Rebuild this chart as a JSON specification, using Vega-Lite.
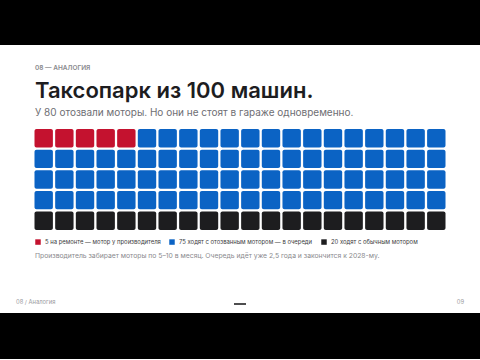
{
  "$schema": "https://vega.github.io/schema/vega-lite/v6.json",
  "background": "white",
  "padding": 0,
  "columns": 1,
  "spacing": 8,
  "bounds": "full",
  "resolve": {"legend": {"color": "independent"}},
  "config": {"view": {"stroke": null}, "font": "Inter", "title": {"font": "Inter", "subtitleFont": "Inter"}},
  "concat": [
    {
      "width": 480,
      "height": 45,
      "view": {"fill": "#000000"},
      "data": {"values": [{"t": ""}]},
      "mark": {"type": "text"},
      "encoding": {"text": {"field": "t"}},
      "title": {"text": "08 — АНАЛОГИЯ", "orient": "bottom", "anchor": "start", "frame": "group", "dx": 35, "offset": 20, "fontSize": 6.5, "fontWeight": 600, "color": "#8a8a8e"}
    },
    {
      "width": 480,
      "height": 101,
      "title": {"text": "Таксопарк из 100 машин.", "subtitle": "У 80 отозвали моторы. Но они не стоят в гараже одновременно.", "anchor": "start", "frame": "group", "dx": 35, "fontSize": 22, "fontWeight": 600, "color": "#1d1d1f", "subtitleFontSize": 10, "subtitleColor": "#6e6e73", "subtitlePadding": 5, "offset": 10},
      "data": {"values": [
        {"c":1,"r":1,"s":"repair"},{"c":2,"r":1,"s":"repair"},{"c":3,"r":1,"s":"repair"},{"c":4,"r":1,"s":"repair"},{"c":5,"r":1,"s":"repair"},
        {"c":6,"r":1,"s":"queue"},{"c":7,"r":1,"s":"queue"},{"c":8,"r":1,"s":"queue"},{"c":9,"r":1,"s":"queue"},{"c":10,"r":1,"s":"queue"},
        {"c":11,"r":1,"s":"queue"},{"c":12,"r":1,"s":"queue"},{"c":13,"r":1,"s":"queue"},{"c":14,"r":1,"s":"queue"},{"c":15,"r":1,"s":"queue"},
        {"c":16,"r":1,"s":"queue"},{"c":17,"r":1,"s":"queue"},{"c":18,"r":1,"s":"queue"},{"c":19,"r":1,"s":"queue"},{"c":20,"r":1,"s":"queue"},
        {"c":1,"r":2,"s":"queue"},{"c":2,"r":2,"s":"queue"},{"c":3,"r":2,"s":"queue"},{"c":4,"r":2,"s":"queue"},{"c":5,"r":2,"s":"queue"},
        {"c":6,"r":2,"s":"queue"},{"c":7,"r":2,"s":"queue"},{"c":8,"r":2,"s":"queue"},{"c":9,"r":2,"s":"queue"},{"c":10,"r":2,"s":"queue"},
        {"c":11,"r":2,"s":"queue"},{"c":12,"r":2,"s":"queue"},{"c":13,"r":2,"s":"queue"},{"c":14,"r":2,"s":"queue"},{"c":15,"r":2,"s":"queue"},
        {"c":16,"r":2,"s":"queue"},{"c":17,"r":2,"s":"queue"},{"c":18,"r":2,"s":"queue"},{"c":19,"r":2,"s":"queue"},{"c":20,"r":2,"s":"queue"},
        {"c":1,"r":3,"s":"queue"},{"c":2,"r":3,"s":"queue"},{"c":3,"r":3,"s":"queue"},{"c":4,"r":3,"s":"queue"},{"c":5,"r":3,"s":"queue"},
        {"c":6,"r":3,"s":"queue"},{"c":7,"r":3,"s":"queue"},{"c":8,"r":3,"s":"queue"},{"c":9,"r":3,"s":"queue"},{"c":10,"r":3,"s":"queue"},
        {"c":11,"r":3,"s":"queue"},{"c":12,"r":3,"s":"queue"},{"c":13,"r":3,"s":"queue"},{"c":14,"r":3,"s":"queue"},{"c":15,"r":3,"s":"queue"},
        {"c":16,"r":3,"s":"queue"},{"c":17,"r":3,"s":"queue"},{"c":18,"r":3,"s":"queue"},{"c":19,"r":3,"s":"queue"},{"c":20,"r":3,"s":"queue"},
        {"c":1,"r":4,"s":"queue"},{"c":2,"r":4,"s":"queue"},{"c":3,"r":4,"s":"queue"},{"c":4,"r":4,"s":"queue"},{"c":5,"r":4,"s":"queue"},
        {"c":6,"r":4,"s":"queue"},{"c":7,"r":4,"s":"queue"},{"c":8,"r":4,"s":"queue"},{"c":9,"r":4,"s":"queue"},{"c":10,"r":4,"s":"queue"},
        {"c":11,"r":4,"s":"queue"},{"c":12,"r":4,"s":"queue"},{"c":13,"r":4,"s":"queue"},{"c":14,"r":4,"s":"queue"},{"c":15,"r":4,"s":"queue"},
        {"c":16,"r":4,"s":"queue"},{"c":17,"r":4,"s":"queue"},{"c":18,"r":4,"s":"queue"},{"c":19,"r":4,"s":"queue"},{"c":20,"r":4,"s":"queue"},
        {"c":1,"r":5,"s":"normal"},{"c":2,"r":5,"s":"normal"},{"c":3,"r":5,"s":"normal"},{"c":4,"r":5,"s":"normal"},{"c":5,"r":5,"s":"normal"},
        {"c":6,"r":5,"s":"normal"},{"c":7,"r":5,"s":"normal"},{"c":8,"r":5,"s":"normal"},{"c":9,"r":5,"s":"normal"},{"c":10,"r":5,"s":"normal"},
        {"c":11,"r":5,"s":"normal"},{"c":12,"r":5,"s":"normal"},{"c":13,"r":5,"s":"normal"},{"c":14,"r":5,"s":"normal"},{"c":15,"r":5,"s":"normal"},
        {"c":16,"r":5,"s":"normal"},{"c":17,"r":5,"s":"normal"},{"c":18,"r":5,"s":"normal"},{"c":19,"r":5,"s":"normal"},{"c":20,"r":5,"s":"normal"}
      ]},
      "mark": {"type": "rect", "cornerRadius": 2},
      "encoding": {
        "x": {"field": "c", "type": "ordinal", "axis": null, "scale": {"paddingInner": 0.11, "paddingOuter": 0, "range": [34.5, 445.5]}},
        "y": {"field": "r", "type": "ordinal", "axis": null, "scale": {"paddingInner": 0.11, "paddingOuter": 0}},
        "color": {"field": "s", "type": "nominal",
          "scale": {"domain": ["repair", "queue", "normal"], "range": ["#C4122F", "#0B63C4", "#1d1d1f"]},
          "legend": {"orient": "none", "legendX": 35, "legendY": 110, "direction": "horizontal", "title": null, "symbolType": "square", "symbolSize": 30, "symbolStrokeWidth": 0, "symbolOpacity": 1,
            "labelFontSize": 5.9, "labelColor": "#3a3a3c", "labelFont": "Inter", "columnPadding": 8, "labelOffset": 4, "padding": 0, "labelLimit": 300,
            "labelExpr": "datum.value == 'repair' ? '5 на ремонте — мотор у производителя' : datum.value == 'queue' ? '75 ходят с отозванным мотором — в очереди' : '20 ходят с обычным мотором'"}}
      }
    },
    {
      "width": 480,
      "height": 6,
      "title": {"text": "Производитель забирает моторы по 5–10 в месяц. Очередь идёт уже 2,5 года и закончится к 2028-му.", "anchor": "start", "frame": "group", "dx": 35, "fontSize": 6.8, "fontWeight": 400, "color": "#8a8a8e", "offset": 39},
      "data": {"values": [{"t": "08 / Аналогия", "slot": "left"}, {"t": "", "slot": "mid"}, {"t": "09", "slot": "right"}]},
      "encoding": {
        "x": {"field": "slot", "type": "nominal", "axis": null, "scale": {"type": "point", "domain": ["left", "mid", "right"], "range": [16, 464], "padding": 0}}
      },
      "layer": [
        {"transform": [{"filter": "datum.slot == 'left'"}], "mark": {"type": "text", "align": "left", "fontSize": 5.8, "color": "#9a9a9e"}, "encoding": {"text": {"field": "t"}}},
        {"transform": [{"filter": "datum.slot == 'mid'"}], "mark": {"type": "point", "shape": "M-1,-0.15L1,-0.15L1,0.15L-1,0.15Z", "size": 144, "filled": true, "opacity": 1, "color": "#3a3a3c", "yOffset": 2, "strokeWidth": 0}},
        {"transform": [{"filter": "datum.slot == 'right'"}], "mark": {"type": "text", "align": "right", "fontSize": 5.8, "color": "#9a9a9e"}, "encoding": {"text": {"field": "t"}}}
      ]
    },
    {
      "width": 480,
      "height": 46,
      "view": {"fill": "#000000"},
      "data": {"values": [{"t": ""}]},
      "mark": {"type": "text"},
      "encoding": {"text": {"field": "t"}}
    }
  ]
}
